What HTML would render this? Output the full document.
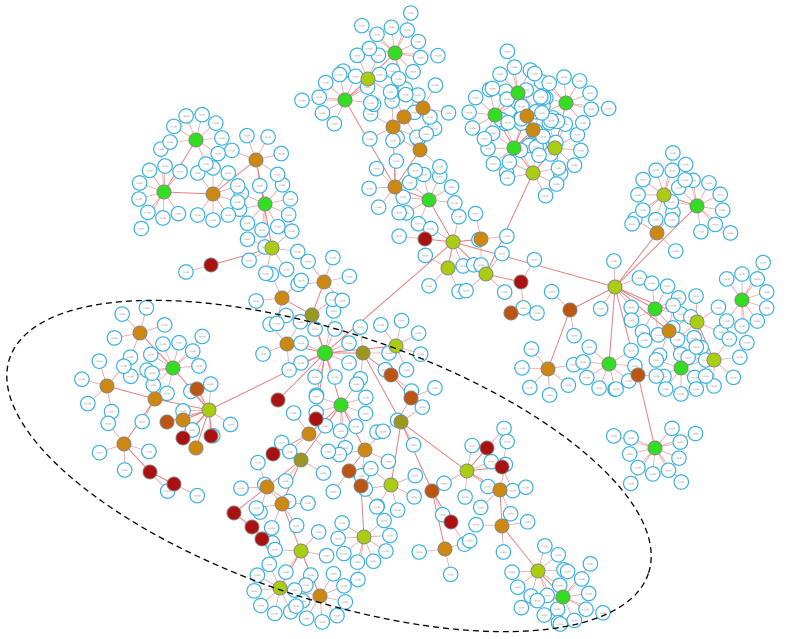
<!DOCTYPE html>
<html><head><meta charset="utf-8"><title>Network graph</title>
<style>html,body{margin:0;padding:0;background:#fff;width:809px;height:639px;overflow:hidden;}svg{display:block;font-family:"Liberation Sans",sans-serif;}</style>
</head><body>
<svg id="chart" width="809" height="639" viewBox="0 0 809 639" overflow="hidden">
<g id="edges"></g>
<g id="leaves"></g>
<g id="hubs"></g>
<ellipse cx="329" cy="466" rx="337" ry="133" transform="rotate(18.6 329 466)" fill="none" stroke="#000" stroke-width="1.3" stroke-dasharray="6,4"/>
</svg>
<script>
const hubX=[325,363,312,287,341,301,391,411,401,365,349,361,364,391,432,451,445,467,487,502,500,502,538,563,209,173,155,140,107,124,197,183,167,183,196,211,150,174,278,316,309,273,267,282,234,252,262,301,280,320,396,429,453,448,486,481,425,521,511,615,570,548,609,638,655,655,669,697,742,714,681,657,697,664,514,555,533,495,527,533,518,566,420,404,393,423,395,368,395,345,324,282,211,272,265,256,213,164,196];
const hubY=[353,353,315,344,405,460,375,398,422,450,471,486,537,485,491,522,549,471,448,467,490,526,571,597,410,368,399,333,386,444,389,420,422,438,448,436,472,484,400,419,434,454,487,504,513,527,539,551,588,596,346,200,242,268,274,239,239,282,313,287,310,369,364,375,448,309,331,322,300,360,368,233,206,195,148,148,173,115,116,130,93,103,150,117,127,108,187,79,53,100,282,298,265,248,204,160,194,192,140];
const hubParent=[-1,0,0,0,0,4,1,6,1,4,9,10,11,8,8,14,14,8,17,17,17,20,21,22,0,24,24,25,26,26,24,24,24,24,24,24,29,36,0,0,4,40,5,5,42,44,45,43,47,47,0,52,0,52,52,52,52,54,58,52,59,60,59,59,63,59,59,59,68,67,66,59,59,72,76,76,54,74,74,74,77,75,86,83,86,83,51,89,87,86,2,2,93,95,95,96,96,96,97];
const hubKind=[0,3,3,2,0,3,4,4,3,2,4,4,1,1,4,5,2,1,5,5,2,2,1,0,1,0,2,2,2,2,4,2,4,5,2,5,5,5,5,5,2,5,2,2,5,5,5,1,1,2,1,0,1,1,1,2,5,5,4,1,4,2,0,4,0,0,2,1,0,1,0,2,0,1,0,1,1,0,2,2,0,0,2,2,2,2,2,1,0,0,2,2,5,1,0,2,2,0,0];
const leafCount=[10,3,2,4,9,3,1,2,3,4,1,1,9,6,1,1,3,5,1,2,4,3,9,12,6,10,2,5,5,4,0,0,0,0,0,0,1,1,0,0,3,0,4,5,0,1,0,5,8,8,6,8,4,4,3,3,1,2,1,4,2,6,8,2,12,8,6,5,10,6,8,3,10,10,8,8,8,8,6,6,10,10,3,5,5,4,6,6,12,10,5,4,1,6,9,6,8,10,8];
const kindColors=["#33dd22","#aacc11","#cc8811","#999922","#bb5511","#aa1111"];
const NS="http://www.w3.org/2000/svg";
const eg=document.getElementById('edges'),lg=document.getElementById('leaves'),hg=document.getElementById('hubs');
function mk(tag,attrs,parent){const e=document.createElementNS(NS,tag);for(const k in attrs)e.setAttribute(k,attrs[k]);parent.appendChild(e);return e;}
for(let i=0;i<hubX.length;i++){
  const p=hubParent[i];
  if(p>=0){const l=mk('line',{x1:hubX[p],y1:hubY[p],x2:hubX[i],y2:hubY[i],stroke:'#e88080','stroke-width':1},eg);
    
    }
  let base=0;
  if(p>=0)base=Math.atan2(hubY[i]-hubY[p],hubX[i]-hubX[p]);
  const n=leafCount[i];
  for(let j=0;j<n;j++){
    const ring=j<8?0:1;
    const inRing=ring===0?Math.min(n,8):n-8;
    const idx=ring===0?j:j-8;
    const span=p>=0?Math.PI*1.6:Math.PI*2;
    const a=base-span/2+span*(idx+0.5)/inRing+ring*0.2;
    const r=ring===0?26:43;
    const lx=hubX[i]+r*Math.cos(a);
    const ly=Math.min(hubY[i]+r*Math.sin(a),624);
    const le=mk('line',{x1:hubX[i],y1:hubY[i],x2:lx,y2:ly,stroke:'#f0a0a0','stroke-width':0.8},eg);
    
    
    const c=mk('circle',{cx:lx,cy:ly,r:7.2,fill:'#fff',stroke:'#3ab0e0','stroke-width':1.2},lg);
    
    
    const t=mk('text',{x:lx,y:ly+1,'font-size':3,fill:'#999','text-anchor':'middle'},lg);
    t.textContent='node';
    
    
  }
}
for(let i=0;i<hubX.length;i++){
  const c=mk('circle',{cx:hubX[i],cy:hubY[i],r:i===0?7.5:7,fill:kindColors[hubKind[i]],stroke:'#888','stroke-width':1},hg);
  
  
}
</script>
</body></html>
